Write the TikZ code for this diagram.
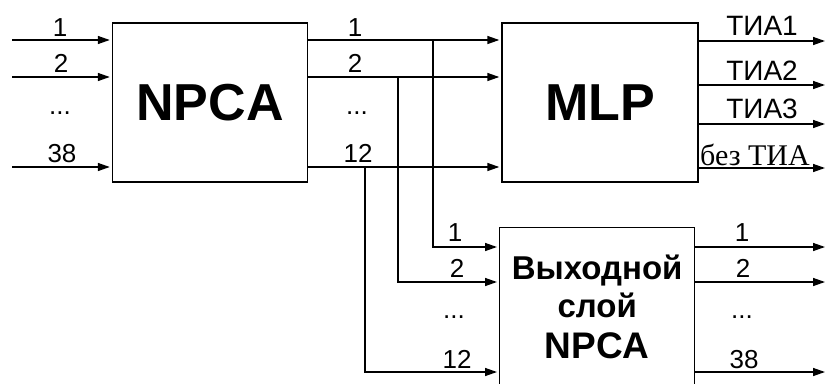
\documentclass[tikz,border=0pt]{standalone}
\usepackage{fontspec}
\setmainfont{Liberation Sans}
\newfontfamily\timesfont{Liberation Serif}
\usetikzlibrary{arrows.meta,positioning,calc}
\newcommand{\skipdots}{...}

\begin{document}
\begin{tikzpicture}[x=1pt,y=-1pt,
  blk/.style={draw,line width=1.4pt,inner sep=0pt,minimum width=195pt,
              minimum height=159pt,font=\bfseries\fontsize{52}{60}\selectfont},
  num/.style={anchor=base,inner sep=0pt,font=\fontsize{26}{30}\selectfont},
  tia/.style={anchor=base,inner sep=0pt,font=\fontsize{28}{32}\selectfont},
  ar/.style={-{Triangle[length=12pt,width=8pt]},line width=1.4pt,shorten >=2pt}]

\useasboundingbox (0,0) rectangle (826,383);

\node[blk] (npca) at (210,102.5) {NPCA};
\node[blk,minimum width=196pt] (mlp) at (600,102.5) {MLP};
\node[blk,anchor=north west,minimum height=158pt,align=center,
      font=\bfseries\fontsize{33}{38}\selectfont] (outl) at (499,227)
  {Выходной\\слой\\[3pt]{\fontsize{37}{42}\selectfont NPCA}};

% inputs, NPCA -> MLP, branches to the output layer
\foreach \y/\n/\bx/\by in {40/1/433/247, 77/2/398/282, 167/3/365/372} {
  \coordinate (in\n) at (12,\y);
  \coordinate (br\n) at (\bx,\y);
  \coordinate (ol\n) at (499,\by);
  \coordinate (oo\n) at (827,\by);
  \draw[ar] (in\n) -- (in\n -| npca.west);
  \draw[ar] (npca.east |- in\n) -- (mlp.west |- in\n);
  \draw[ar] (br\n) |- (ol\n);
  \draw[ar] (outl.east |- ol\n) -- (oo\n);
}
\foreach \y/\n in {41/1, 85/2, 124/3, 168/4} {
  \coordinate (mo\n) at (827,\y);
  \draw[ar] (mlp.east |- mo\n) -- (mo\n);
}

% labels
\foreach \x/\y/\t/\n in {60/36/1/a1, 61/72/2/a2, 60/114/\skipdots/a3, 62/162/38/a4,
    355/36/1/b1, 355/72/2/b2, 357/114/\skipdots/b3, 358/162/12/b4,
    455/241/1/c1, 457/277/2/c2, 454/318/\skipdots/c3, 457/368/12/c4,
    742/241/1/d1, 743/277/2/d2, 742/318/\skipdots/d3, 744/368/38/d4}
  \node[num] (l\n) at (\x,\y) {\t};
\node[tia] (t1) at (762,35) {ТИА1};
\node[tia] (t2) at (762,80) {ТИА2};
\node[tia] (t3) at (762,118) {ТИА3};
\node[tia,font=\timesfont\fontsize{30}{34}\selectfont] (t4) at (755,165) {без ТИА};
\end{tikzpicture}
\end{document}
